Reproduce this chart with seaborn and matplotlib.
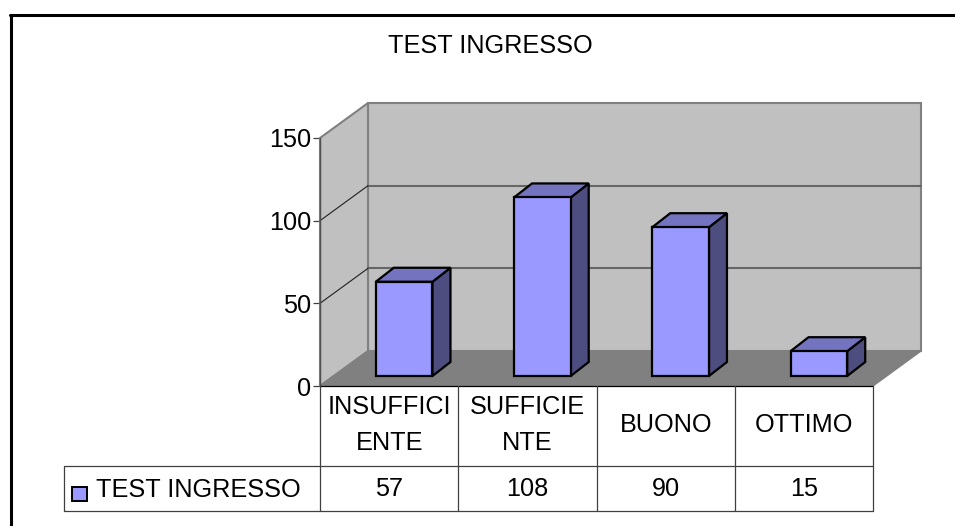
import matplotlib
matplotlib.use("Agg")
import matplotlib.pyplot as plt
from matplotlib.lines import Line2D
from matplotlib.patches import Polygon, Rectangle
from matplotlib.transforms import Affine2D, IdentityTransform, blended_transform_factory
import pandas as pd
import seaborn as sns

categories = ["INSUFFICI\nENTE", "SUFFICIE\nNTE", "BUONO", "OTTIMO"]
values = [57, 108, 90, 15]
series_name = "TEST INGRESSO"
y_ticks = [0, 50, 100, 150]

W, H = 955, 526
sns.set_theme(style="white")
plt.rcParams["font.family"] = ["Liberation Sans", "DejaVu Sans"]
FS = 18.2

fig = plt.figure(figsize=(W / 100, H / 100), dpi=100, facecolor="white")
L, R, B, T = 320, 873, 386, 138
ax = fig.add_axes([L / W, 1 - B / H, (R - L) / W, (B - T) / H], facecolor="none")

df = pd.DataFrame({"categoria": categories, "valore": values})
sns.barplot(data=df, x="categoria", y="valore", ax=ax, color="#9999FF", saturation=1,
            width=0.41, edgecolor="black", linewidth=1.6, zorder=5)
ax.set_xlim(-0.5, 3.5)
ax.set_ylim(0, y_ticks[-1])


def shifted(dx, dy):
    return ax.transData + Affine2D().translate(dx, dy)


# Walls and floor, projected from the axis limits
WX, WY = 48, 35
x0, x1 = ax.get_xlim()
y0, y1 = ax.get_ylim()
fr = ax.transData
bk = shifted(WX, WY)
ident = IdentityTransform()


def pts(*items):
    return [tuple(t.transform(p)) for t, p in items]


back = pts((bk, (x0, y0)), (bk, (x1, y0)), (bk, (x1, y1)), (bk, (x0, y1)))
left = pts((fr, (x0, y0)), (bk, (x0, y0)), (bk, (x0, y1)), (fr, (x0, y1)))
floor = pts((fr, (x0, y0)), (fr, (x1, y0)), (bk, (x1, y0)), (bk, (x0, y0)))
ax.add_patch(Polygon(back, closed=True, transform=ident, fc="#C0C0C0", ec="#808080", lw=1.5, zorder=1, clip_on=False))
ax.add_patch(Polygon(left, closed=True, transform=ident, fc="#C0C0C0", ec="#808080", lw=1.5, zorder=1, clip_on=False))
ax.add_patch(Polygon(floor, closed=True, transform=ident, fc="#808080", ec="#808080", lw=1, zorder=2, clip_on=False))

# Front edge of the left wall
fe_a = fr.transform((x0, y0))
fe_b = fr.transform((x0, y1))
ax.add_line(Line2D([fe_a[0], fe_b[0]], [fe_a[1], fe_b[1]], transform=ident, color="#505050", lw=1.0, zorder=3, clip_on=False))

for v in y_ticks[1:-1]:
    a = bk.transform((x0, v))
    b = bk.transform((x1, v))
    c = fr.transform((x0, v))
    ax.add_line(Line2D([a[0], b[0]], [a[1], b[1]], transform=ident, color="#666666", lw=1.5, zorder=2, clip_on=False))
    ax.add_line(Line2D([c[0], a[0]], [c[1], a[1]], transform=ident, color="#202020", lw=0.8, zorder=2, clip_on=False))

# Extrude bars
BX, BY = 15, 10
DX, DY = 18, 14
bar_tr = shifted(BX, BY)
for patch in list(ax.patches):
    if not isinstance(patch, Rectangle):
        continue
    bx, by = patch.get_x(), patch.get_y()
    bw, bh = patch.get_width(), patch.get_height()
    patch.set_transform(bar_tr)
    patch.set_clip_on(False)
    patch.set_joinstyle("miter")
    bl = bar_tr.transform((bx, by))
    br = bar_tr.transform((bx + bw, by))
    tl = bar_tr.transform((bx, by + bh))
    tr = bar_tr.transform((bx + bw, by + bh))
    side = [tuple(br), (br[0] + DX, br[1] + DY), (tr[0] + DX, tr[1] + DY), tuple(tr)]
    top = [tuple(tl), tuple(tr), (tr[0] + DX, tr[1] + DY), (tl[0] + DX, tl[1] + DY)]
    ax.add_patch(Polygon(side, closed=True, transform=ident, fc="#4D4D80", ec="black", lw=1.6, zorder=4, clip_on=False, joinstyle="miter"))
    ax.add_patch(Polygon(top, closed=True, transform=ident, fc="#7373BF", ec="black", lw=1.6, zorder=4, clip_on=False, joinstyle="miter"))

# Axis
sns.despine(ax=ax, left=True, bottom=True, right=True, top=True)
ax.set_xlabel("")
ax.set_ylabel("")
ax.set_yticks(y_ticks)
ax.set_yticklabels([str(v) for v in y_ticks])
ax.set_xticks([])
ax.tick_params(axis="y", left=True, length=5.0, width=0.9, color="#404040", pad=1.5, labelsize=FS, labelcolor="black")


# Data table and frame, in image pixels
def hline(x_a, x_b, y, color="#404040", lw=0.9):
    fig.add_artist(Line2D([x_a, x_b], [H - y, H - y], transform=ident, color=color, lw=lw))


def vline(x, y_a, y_b, color="#404040", lw=0.9):
    fig.add_artist(Line2D([x, x], [H - y_a, H - y_b], transform=ident, color=color, lw=lw))


ROW0, ROW1, ROW2, LEG = 386, 466, 511, 64
hline(L, R, ROW0, color="black")
hline(LEG, R, ROW1)
hline(LEG, R, ROW2)
vline(LEG, ROW1, ROW2)
for i in range(len(categories) + 1):
    xpos = fr.transform((i - 0.5, 0))[0]
    vline(xpos, ROW0, ROW2)

tx = blended_transform_factory(ax.transData, ident)
for i, (c, v) in enumerate(zip(categories, values)):
    ax.text(i, H - (ROW0 + ROW1) / 2 + 1, c, transform=tx, ha="center", va="center", fontsize=FS,
            color="black", linespacing=1.6, clip_on=False)
    ax.text(i, H - (ROW1 + ROW2) / 2, str(v), transform=tx, ha="center", va="center", fontsize=FS,
            color="black", clip_on=False)

fig.add_artist(Rectangle((72, H - 501), 15, 14, transform=ident, fc="#9999FF", ec="black", lw=1.4))
fig.text(96 / W, 1 - 490 / H, series_name, ha="left", va="center", fontsize=FS, color="black")
fig.text(490 / W, 1 - 46 / H, series_name, ha="center", va="center", fontsize=FS, color="black")

# Chart frame
fig.add_artist(Line2D([10, W], [H - 15, H - 15], transform=ident, color="black", lw=2.2))
fig.add_artist(Line2D([10.5, 10.5], [0, H - 15], transform=ident, color="black", lw=2.2))

fig.savefig("out.png", dpi=100)
